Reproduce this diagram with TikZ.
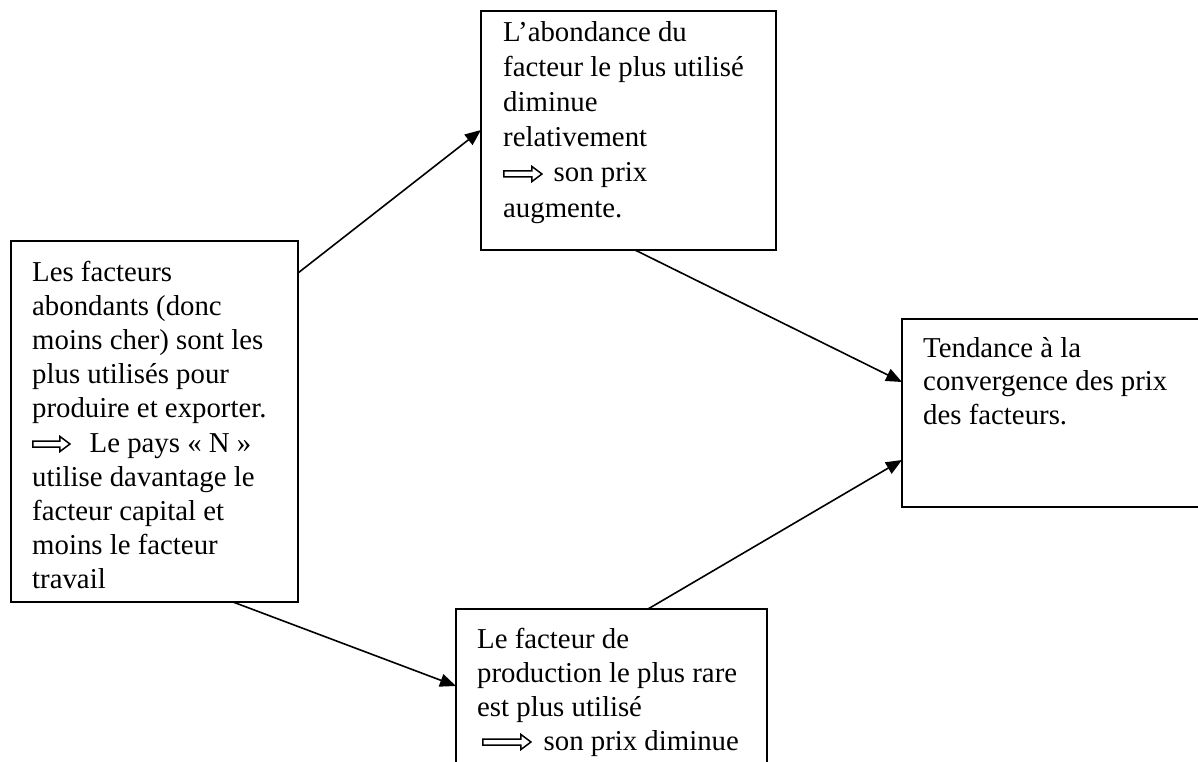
\documentclass[tikz,border=0pt]{standalone}
\usepackage{fontspec}
\setmainfont{Liberation Serif}
\usetikzlibrary{arrows.meta}
\newcommand{\hollowarr}[1]{\tikz[baseline=0pt,x=1pt,y=1pt]{\draw[line width=1.5pt,line join=miter,fill=white] (0,5) -- (#1-10,5) -- (#1-10,0.5) -- (#1,8) -- (#1-10,15.5) -- (#1-10,11) -- (0,11) -- cycle;}}
\tikzset{
  box/.style={draw, line width=1.6pt, rectangle, anchor=north west, inner sep=0pt, outer sep=0pt},
  txt/.style={anchor=base west, inner sep=0pt, font=\fontsize{28.8}{33.5}\selectfont},
  arr/.style={line width=1.6pt, -{Triangle[length=16pt,width=13pt]}}
}
\begin{document}
\begin{tikzpicture}[x=1pt,y=1pt]
\useasboundingbox (0,0) rectangle (1198,-762);
\clip (0,0) rectangle (1198,-762);
\fill[white] (0,0) rectangle (1198,-762);
% boxes
\node[box, minimum width=287pt, minimum height=361pt] (L) at (11,-241) {};
\node[box, minimum width=295pt, minimum height=239pt] (T) at (481,-11) {};
\node[box, minimum width=320pt, minimum height=188pt] (R) at (902,-319) {};
\node[box, minimum width=311pt, minimum height=200pt] (B) at (456,-609) {};
% left text
\foreach \t [count=\i] in {{Les facteurs},{abondants (donc},{moins cher) sont les},{plus utilisés pour},{produire et exporter.},{\hollowarr{37}\hspace{19pt}Le pays « N »},{utilise davantage le},{facteur capital et},{moins le facteur},{travail}}
  \node[txt] (Lt\i) at (32,{-281-34.2*(\i-1)}) {\t};
% top text
\foreach \t [count=\i] in {{L’abondance du},{facteur le plus utilisé},{diminue},{relativement},{\hollowarr{38}\hspace{11pt}son prix},{augmente.}}
  \node[txt] (Tt\i) at (503,{-42-35*(\i-1)}) {\t};
% right text
\foreach \t [count=\i] in {{Tendance à la},{convergence des prix},{des facteurs.}}
  \node[txt] (Rt\i) at (923,{-357-33.6*(\i-1)}) {\t};
% bottom text
\foreach \t [count=\i] in {{Le facteur de},{production le plus rare},{est plus utilisé},{\hspace{5pt}\hollowarr{48}\hspace{12pt}son prix diminue}}
  \node[txt] (Bt\i) at (477,{-648-34*(\i-1)}) {\t};
% connectors
\draw[arr] ([yshift=-32pt]L.north east) -- ([yshift=-119pt]T.north west);
\draw[arr] ([xshift=222pt]L.south west) -- ([yshift=-77pt]B.north west);
\draw[arr] ([xshift=154pt]T.south west) -- ([yshift=-63pt]R.north west);
\draw[arr] ([xshift=192pt]B.north west) -- ([yshift=-141pt]R.north west);
\end{tikzpicture}
\end{document}
